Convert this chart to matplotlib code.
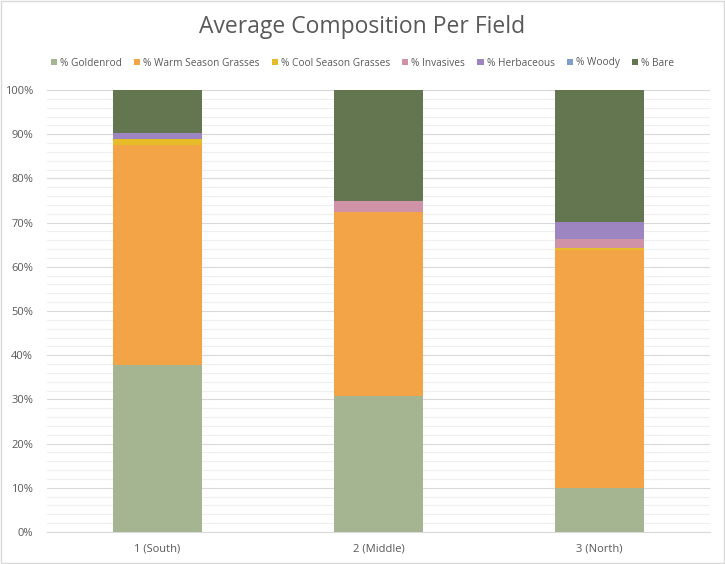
import matplotlib.pyplot as plt
import numpy as np
from matplotlib.patches import Rectangle

fields = ['1 (South)', '2 (Middle)', '3 (North)']
series = ['% Goldenrod', '% Warm Season Grasses', '% Cool Season Grasses',
          '% Invasives', '% Herbaceous', '% Woody', '% Bare']
goldenrod = [37.8, 30.8, 9.9]
warm = [49.8, 41.5, 54.0]
cool = [1.3, 0.2, 0.3]
invasives = [0.0, 2.4, 2.0]
herbaceous = [1.3, 0.0, 4.0]
woody = [0.0, 0.0, 0.0]
bare = [9.8, 25.1, 29.8]
colors = ['#A5B592', '#F3A447', '#E7BC29', '#D092A7', '#9C85C0', '#809ECB', '#637650']

plt.rcParams['font.family'] = ['Open Sans', 'DejaVu Sans']

fig = plt.figure(figsize=(7.25, 5.64), dpi=100)
ax = fig.add_axes([47/725, 32/564, 663/725, 442/564])

x = np.arange(len(fields))
bottom = np.zeros(len(fields))
for name, vals, c in zip(series, [goldenrod, warm, cool, invasives, herbaceous, woody, bare], colors):
    vals = np.array(vals)
    ax.bar(x, vals, 0.4, bottom=bottom, color=c, label=name, zorder=3)
    bottom += vals

ax.set_xlim(-0.5, 2.5)
ax.set_ylim(0, 100)
ax.set_xticks(x)
ax.set_xticklabels(fields)
ax.set_yticks(np.arange(0, 101, 10))
ax.set_yticklabels([f'{v}%' for v in range(0, 101, 10)])
ax.set_yticks(np.arange(0, 101, 2), minor=True)
ax.grid(axis='y', which='major', color='#D9D9D9', linewidth=0.8, zorder=0)
ax.grid(axis='y', which='minor', color='#EFEFEF', linewidth=0.8, zorder=0)
ax.tick_params(axis='both', which='both', length=0, labelsize=8, labelcolor='#595959')
ax.tick_params(axis='x', pad=8)
ax.tick_params(axis='y', pad=10)
for s in ['top', 'right', 'left']:
    ax.spines[s].set_visible(False)
ax.spines['bottom'].set_color('#D9D9D9')

fig.text(0.5, 1 - 27/564, 'Average Composition Per Field', ha='center', va='center',
         fontsize=16.5, color='#595959')
fig.legend(loc='center', bbox_to_anchor=(0.5, 1 - 63/564), ncol=7, frameon=False,
           fontsize=7.3, handlelength=0.6, handleheight=0.6, handletextpad=0.3,
           columnspacing=1.2, labelcolor='#595959')

fig.patches.append(Rectangle((0.001, 0.001), 0.997, 0.997, transform=fig.transFigure,
                             fill=False, edgecolor='#D9D9D9', linewidth=1))

plt.savefig('out.png', dpi=100)
